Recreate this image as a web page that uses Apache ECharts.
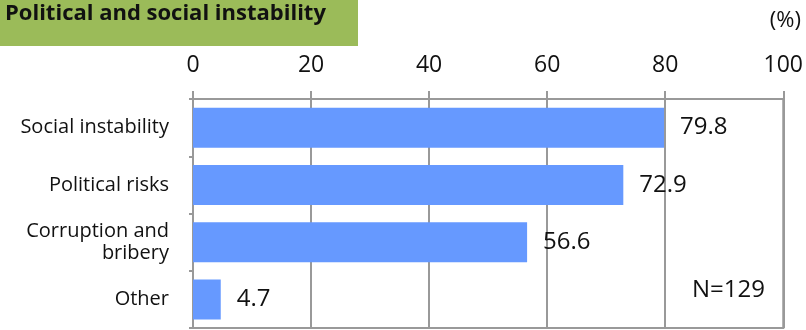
<!DOCTYPE html>
<html>
<head>
<meta charset="utf-8">
<script src="https://cdn.jsdelivr.net/npm/echarts@6/dist/echarts.min.js"></script>
<style>
  html, body { margin: 0; padding: 0; background: #fff; }
  #chart { width: 806px; height: 330px; }
</style>
</head>
<body>
<div id="chart"></div>
<script>
const categories = ['Social instability', 'Political risks', 'Corruption and\nbribery', 'Other']
const values = [79.8, 72.9, 56.6, 4.7]
const tickLabels = ['0', '20', '40', '60', '80', '100']

const chart = echarts.init(document.getElementById('chart'))
const gridColor = '#999999'
const font = '"Open Sans", sans-serif'

const option = {
  animation: false,
  textStyle: { fontFamily: font },
  graphic: [
    {
      type: 'rect',
      shape: { x: 0, y: 0, width: 358, height: 46 },
      style: { fill: '#9bbb59' }
    },
    {
      type: 'text',
      left: 5,
      top: 3,
      style: {
        text: 'Political and social instability',
        font: 'bold 22px ' + font,
        fill: '#111'
      }
    },
    {
      type: 'text',
      right: 5,
      top: 10,
      style: { text: '(%)', font: '22px ' + font, fill: '#111' }
    },
    {
      type: 'text',
      left: 692,
      top: 278,
      style: { text: 'N=129', font: '24px ' + font, fill: '#111' }
    }
  ],
  grid: {
    left: 193,
    right: 22,
    top: 99,
    height: 229,
    show: true,
    borderColor: gridColor,
    borderWidth: 2
  },
  xAxis: {
    type: 'value',
    position: 'top',
    min: 0,
    max: 100,
    interval: 20,
    axisLine: { show: true, lineStyle: { color: gridColor, width: 2 } },
    axisTick: { show: true, length: 8, lineStyle: { color: gridColor, width: 2 } },
    splitLine: { show: true, lineStyle: { color: gridColor, width: 2 } },
    axisLabel: {
      margin: 22,
      fontSize: 23,
      color: '#111',
      formatter: v => tickLabels[Math.round(v / 20)]
    }
  },
  yAxis: {
    type: 'category',
    inverse: true,
    data: categories,
    axisLine: { show: true, lineStyle: { color: gridColor, width: 2 } },
    axisTick: { show: true, length: 4, lineStyle: { color: gridColor, width: 2 } },
    axisLabel: {
      margin: 24,
      fontSize: 20,
      color: '#111',
      lineHeight: 22,
      align: 'right'
    }
  },
  series: [
    {
      type: 'bar',
      data: values,
      barWidth: 40,
      itemStyle: { color: '#6699ff' },
      label: {
        show: true,
        position: 'right',
        distance: 16,
        fontSize: 24,
        color: '#111',
        formatter: p => p.value.toFixed(1)
      }
    }
  ]
}

chart.setOption(option)
</script>
</body>
</html>
